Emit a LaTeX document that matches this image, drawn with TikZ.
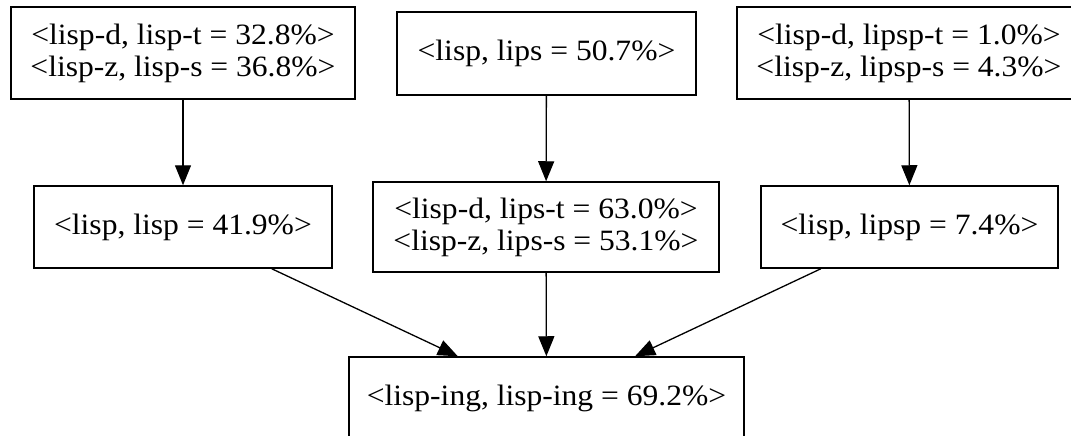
\documentclass[tikz,border=0pt]{standalone}
\usepackage{fontspec}
\setmainfont{Liberation Serif}[FakeStretch=1.07]
\usetikzlibrary{arrows.meta}
\begin{document}
\begin{tikzpicture}[x=1pt,y=-1pt,
  box/.style={draw, line width=1.5pt, align=center, inner sep=0pt,
    font=\fontsize{29.5}{32}\selectfont},
  edge/.style={line width=1.3pt, -{Triangle[length=20pt,width=16pt]}}]
\useasboundingbox (0,0) rectangle (1071,436);
\clip (0,0) rectangle (1071,436);
\fill[white] (0,0) rectangle (1071,436);
\node[box, minimum width=344pt, minimum height=92pt] (b1) at (183,53)
  {<lisp-d, lisp-t = 32.8\%>\\<lisp-z, lisp-s = 36.8\%>};
\node[box, minimum width=299pt, minimum height=83pt] (b2) at (546.5,53.5)
  {<lisp, lips = 50.7\%>};
\node[box, minimum width=344pt, minimum height=92pt] (b3) at (909,53)
  {<lisp-d, lipsp-t = 1.0\%>\\<lisp-z, lipsp-s = 4.3\%>};
\node[box, minimum width=298pt, minimum height=82pt] (b4) at (183,227)
  {<lisp, lisp = 41.9\%>};
\node[box, minimum width=346pt, minimum height=90pt] (b5) at (546,227)
  {<lisp-d, lips-t = 63.0\%>\\<lisp-z, lips-s = 53.1\%>};
\node[box, minimum width=297pt, minimum height=82pt] (b6) at (909.5,227)
  {<lisp, lipsp = 7.4\%>};
\node[box, minimum width=395pt, minimum height=82pt] (b7) at (546.5,398)
  {<lisp-ing, lisp-ing = 69.2\%>};
\draw[edge] (b1) -- (b4);
\draw[edge] (b2) -- (b5);
\draw[edge] (b3) -- (b6);
\draw[edge] (b4) -- (b7);
\draw[edge] (b5) -- (b7);
\draw[edge] (b6) -- (b7);
\end{tikzpicture}
\end{document}
